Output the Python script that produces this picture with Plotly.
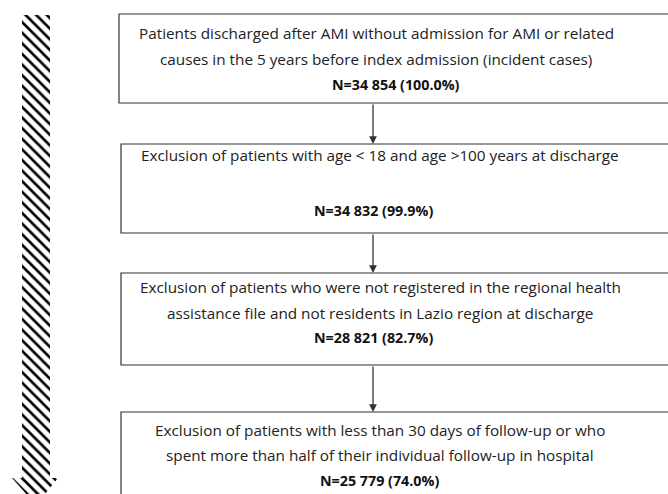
import plotly.graph_objects as go

# ---- data ----
box_texts = [
    ["Patients discharged after AMI without admission for AMI or related",
     "causes in the 5 years before index admission (incident cases)"],
    ["Exclusion of patients with age < 18 and age >100 years at discharge"],
    ["Exclusion of patients who were not registered in the regional health",
     "assistance file and not residents in Lazio region at discharge"],
    ["Exclusion of patients with less than 30 days of follow-up or who",
     "spent more than half of their individual follow-up in hospital"],
]
n_values = ["34 854", "34 832", "28 821", "25 779"]
pct_values = ["100.0%", "99.9%", "82.7%", "74.0%"]

# ---- layout constants (pixels) ----
W, H = 668, 494
box_left = [119, 121, 121, 121]
box_right = 700
box_top = [14, 144, 273, 412]
box_bottom = [103, 233, 365, 520]
text_rows = [[33, 59], [155], [287, 313], [430, 455]]
n_rows = [84, 210, 337, 480]
text_cx = [376, 380, 380, 380]
n_cx = [396, 373, 373, 379]
arrow_x = 373
FONT = "Open Sans"
FS = 15.3
FS_B = 14.3
LINE = "#333333"

fig = go.Figure()

# hatched vertical arrow on the left
hx = [22, 50, 50, 58, 36, 12, 22, 22]
hy = [15, 15, 478, 478, 505, 478, 478, 15]
fig.add_trace(go.Scatter(
    x=hx, y=hy, mode="lines", fill="toself", line=dict(width=0),
    fillcolor="white",
    fillpattern=dict(shape="\\", size=7.5, solidity=0.35, fgcolor="black",
                     bgcolor="white", fgopacity=1),
    hoverinfo="skip", showlegend=False))

shapes = []
annotations = []
for i in range(len(box_texts)):
    shapes.append(dict(type="rect", xref="x", yref="y",
                       x0=box_left[i], x1=box_right, y0=box_top[i], y1=box_bottom[i],
                       line=dict(color=LINE, width=1.2), fillcolor="rgba(0,0,0,0)"))
    for txt, yy in zip(box_texts[i], text_rows[i]):
        annotations.append(dict(x=text_cx[i], y=yy, xref="x", yref="y", text=txt,
                                showarrow=False, font=dict(family=FONT, size=FS, color="#222222"),
                                xanchor="center", yanchor="middle"))
    annotations.append(dict(x=n_cx[i], y=n_rows[i], xref="x", yref="y",
                            text=f"<b>N={n_values[i]} ({pct_values[i]})</b>",
                            showarrow=False, font=dict(family=FONT, size=FS_B, color="#111111"),
                            xanchor="center", yanchor="middle"))
    if i > 0:
        annotations.append(dict(x=arrow_x, y=box_top[i], ax=arrow_x, ay=box_bottom[i - 1],
                                xref="x", yref="y", axref="x", ayref="y", text="",
                                showarrow=True, arrowhead=2, arrowsize=1.2, arrowwidth=1.3,
                                arrowcolor=LINE, standoff=0, startstandoff=0))

fig.update_layout(
    width=W, height=H, margin=dict(l=0, r=0, t=0, b=0),
    paper_bgcolor="white", plot_bgcolor="white",
    xaxis=dict(range=[0, W], visible=False, fixedrange=True),
    yaxis=dict(range=[H, 0], visible=False, fixedrange=True),
    shapes=shapes, annotations=annotations, showlegend=False,
)
fig.write_html("out.html", config={"displayModeBar": False},
               post_script="document.body.style.margin='0';document.body.style.overflow='hidden';")
